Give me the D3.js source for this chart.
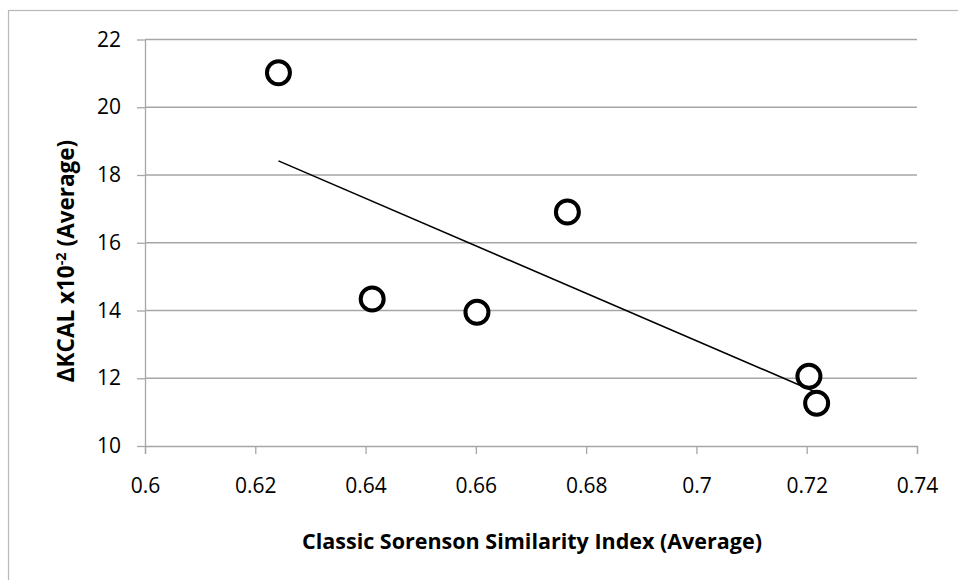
<!DOCTYPE html>
<html>
<head>
<meta charset="utf-8">
<script src="https://cdn.jsdelivr.net/npm/d3@7"></script>
<style>
  body { margin: 0; background: #fff; }
  text { font-family: "Open Sans", sans-serif; fill: #000; }
</style>
</head>
<body>
<div id="chart"></div>
<script>
// Data
const similarity = [0.6242, 0.6412, 0.6602, 0.6766, 0.7204, 0.7218];
const kcal = [21.02, 14.34, 13.95, 16.91, 12.06, 11.26];
const xTicks = [0.6, 0.62, 0.64, 0.66, 0.68, 0.7, 0.72, 0.74];
const yTicks = [10, 12, 14, 16, 18, 20, 22];

const width = 958, height = 580;
const margin = {top: 39.5, right: 41, bottom: 134, left: 145};

const svg = d3.select("#chart").append("svg").attr("width", width).attr("height", height);

// chart area border
svg.append("rect")
  .attr("x", 8.5).attr("y", 10.5)
  .attr("width", 970).attr("height", 590)
  .attr("fill", "none").attr("stroke", "#b8b8b8").attr("stroke-width", 1.2);

const x = d3.scaleLinear([0.6, 0.74], [margin.left, width - margin.right]);
const y = d3.scaleLinear([10, 22], [height - margin.bottom, margin.top]);

// gridlines
svg.append("g")
  .selectAll("line")
  .data(yTicks.slice(1))
  .join("line")
  .attr("x1", x(0.6)).attr("x2", x(0.74))
  .attr("y1", (d) => y(d)).attr("y2", (d) => y(d))
  .attr("stroke", "#a6a6a6").attr("stroke-width", 1.3);

const axisStyle = (g) => {
  g.select(".domain").attr("stroke", "#a6a6a6").attr("stroke-width", 1.3);
  g.selectAll(".tick line").attr("stroke", "#a6a6a6").attr("stroke-width", 1.3);
  g.selectAll(".tick text").style("font-size", "21px").attr("fill", "#000");
};

svg.append("g")
  .attr("transform", `translate(0,${y(10)})`)
  .call(d3.axisBottom(x).tickValues(xTicks).tickFormat(d3.format("")).tickSize(8).tickSizeOuter(8).tickPadding(24))
  .call(axisStyle);

svg.append("g")
  .attr("transform", `translate(${x(0.6)},0)`)
  .call(d3.axisLeft(y).tickValues(yTicks).tickFormat(d3.format("d")).tickSize(8).tickSizeOuter(0).tickPadding(16))
  .call(axisStyle);

// linear trendline (least squares)
const mx = d3.mean(similarity), my = d3.mean(kcal);
const slope = d3.sum(similarity, (v, i) => (v - mx) * (kcal[i] - my)) / d3.sum(similarity, (v) => (v - mx) ** 2);
const fit = (v) => my + slope * (v - mx);
const [x0, x1] = d3.extent(similarity);
svg.append("line")
  .attr("x1", x(x0)).attr("y1", y(fit(x0)))
  .attr("x2", x(x1)).attr("y2", y(fit(x1)))
  .attr("stroke", "#000").attr("stroke-width", 1.6);

// points
svg.append("g")
  .selectAll("circle")
  .data(similarity)
  .join("circle")
  .attr("cx", (d) => x(d))
  .attr("cy", (d, i) => y(kcal[i]))
  .attr("r", 11.5)
  .attr("fill", "#fff")
  .attr("stroke", "#000")
  .attr("stroke-width", 4);

// axis titles
svg.append("text")
  .attr("x", (x(0.6) + x(0.74)) / 2 + 1)
  .attr("y", 549)
  .attr("text-anchor", "middle")
  .style("font-size", "21.5px").style("font-weight", "bold")
  .text("Classic Sorenson Similarity Index (Average)");

const yTitle = svg.append("text")
  .attr("transform", `translate(74,261) rotate(-90)`)
  .attr("text-anchor", "middle")
  .style("font-size", "22.5px").style("font-weight", "bold");
yTitle.append("tspan").text("ΔKCAL x10");
yTitle.append("tspan").attr("dy", -8).style("font-size", "14.5px").text("-2");
yTitle.append("tspan").attr("dy", 8).text(" (Average)");
</script>
</body>
</html>
